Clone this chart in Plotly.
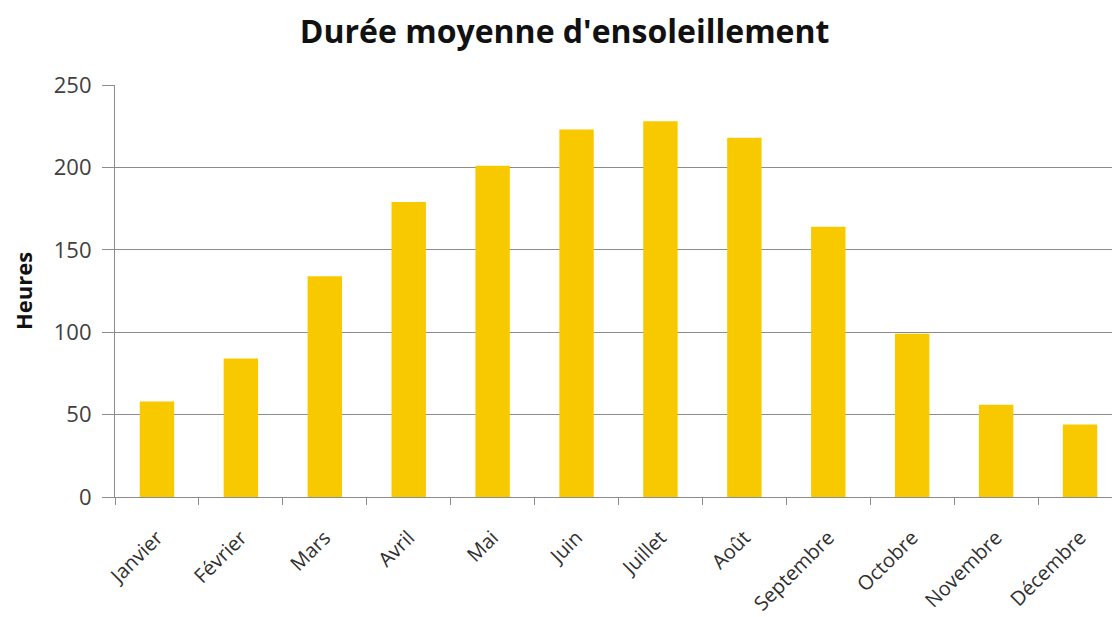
import plotly.graph_objects as go

months = ["Janvier", "Février", "Mars", "Avril", "Mai", "Juin", "Juillet",
          "Août", "Septembre", "Octobre", "Novembre", "Décembre"]
hours = [58, 84, 134, 179, 201, 223, 228, 218, 164, 99, 56, 44]

fig = go.Figure(go.Bar(
    x=months, y=hours,
    marker=dict(color="#F9C900", line=dict(width=0)),
    width=0.41,
))

fig.update_layout(
    width=1120, height=617,
    paper_bgcolor="white", plot_bgcolor="white",
    margin=dict(l=107, r=6, t=77, b=128),
    title=dict(text="<b>Durée moyenne d'ensoleillement</b>", x=0.497, xanchor="center",
               y=0.962, yanchor="middle",
               font=dict(family="Open Sans", size=32, color="#111111")),
    showlegend=False,
    font=dict(family="Open Sans", color="#404040"),
)

fig.update_yaxes(
    range=[0, 250], tickvals=[0, 50, 100, 150, 200, 250],
    showgrid=True, gridcolor="#8C8C8C", gridwidth=1.2,
    showline=True, linecolor="#8C8C8C", linewidth=1.2,
    ticks="outside", ticklen=12, tickcolor="#8C8C8C",
    ticklabelstandoff=6,
    tickfont=dict(size=22, color="#404040"),
    zeroline=False,
    title=dict(text="<b>Heures</b>", font=dict(size=22, color="#111111"), standoff=18),
)

fig.update_xaxes(
    range=[-0.5, 11.5],
    showline=True, linecolor="#8C8C8C", linewidth=1.2,
    ticks="outside", tickson="boundaries", ticklen=7, tickcolor="#8C8C8C",
    tickangle=-45, ticklabelstandoff=20,
    tickfont=dict(size=20, color="#303030"),
)

fig.write_html("out.html")
